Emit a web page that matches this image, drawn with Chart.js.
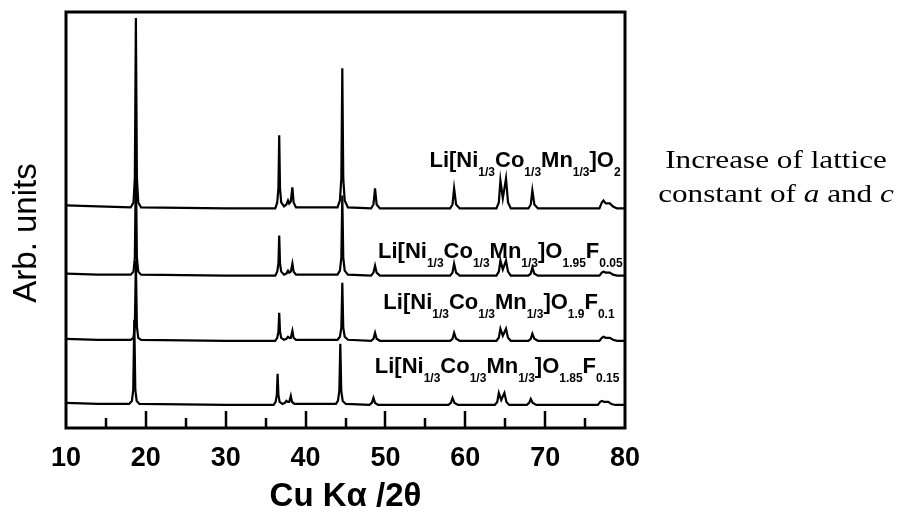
<!DOCTYPE html>
<html>
<head>
<meta charset="utf-8">
<script src="https://cdn.jsdelivr.net/npm/chart.js@4.4.1/dist/chart.umd.min.js"></script>
<style>
  html, body { margin: 0; padding: 0; background: #fff; }
  #wrap { width: 902px; height: 514px; }
</style>
</head>
<body>
<div id="wrap"><canvas id="xrd" width="902" height="514"></canvas></div>
<script>
// XRD patterns, 2theta (deg) and intensity above each trace's own baseline
const angle1 = [10, 14, 18.1, 18.45, 18.62, 18.75, 18.88, 19.05, 19.4, 30, 36.2, 36.45, 36.6, 36.7, 36.8, 36.95, 37.3, 37.6, 37.8, 37.95, 38.15, 38.35, 38.5, 38.8, 44.0, 44.3, 44.48, 44.6, 44.72, 44.9, 45.3, 48.2, 48.5, 48.7, 48.9, 49.3, 58.1, 58.4, 58.6, 58.85, 59.3, 63.9, 64.2, 64.4, 64.7, 65.1, 65.35, 65.7, 67.9, 68.2, 68.4, 68.65, 69.1, 76.8, 77.1, 77.3, 77.6, 78.1, 78.5, 79, 80];
const inten1 = [3, 2, 1, 6, 30, 190, 30, 6, 1, 0, 0, 6, 20, 73, 20, 6, 2, 4, 8, 5, 7, 21, 6, 1, 1, 8, 30, 140, 30, 8, 1, 0, 4, 20, 4, 0, 0, 4, 20, 4, 0, 0, 6, 28, 10, 30, 6, 0, 0, 4, 18, 4, 0, 0, 6, 8, 5, 5, 2, 0, 0];
const inten2 = [2, 1, 1, 4, 18, 110, 18, 4, 1, 0, 0, 4, 12, 40, 12, 4, 1, 2, 5, 3, 4, 12, 4, 1, 1, 5, 18, 80, 18, 5, 1, 0, 3, 10, 3, 0, 0, 3, 12, 3, 0, 0, 4, 15, 6, 15, 4, 0, 0, 2, 8, 2, 0, 0, 3, 4, 3, 3, 1, 0, 0];
const inten3 = [2, 1, 1, 3, 14, 80, 14, 3, 1, 0, 0, 3, 9, 28, 9, 3, 1, 2, 4, 3, 3, 10, 3, 1, 1, 4, 13, 58, 13, 4, 1, 0, 2, 8, 2, 0, 0, 2, 8, 2, 0, 0, 3, 12, 5, 12, 3, 0, 0, 2, 7, 2, 0, 0, 3, 4, 3, 3, 1, 0, 0];
const angle4 = [10, 14, 17.9, 18.25, 18.42, 18.55, 18.68, 18.85, 19.2, 30, 36.0, 36.25, 36.4, 36.5, 36.6, 36.75, 37.1, 37.4, 37.6, 37.75, 37.95, 38.15, 38.3, 38.6, 43.8, 44.05, 44.23, 44.35, 44.47, 44.65, 45.05, 48.0, 48.3, 48.5, 48.7, 49.1, 57.9, 58.2, 58.4, 58.65, 59.1, 63.7, 64.0, 64.2, 64.5, 64.9, 65.15, 65.5, 67.7, 68.0, 68.2, 68.45, 68.9, 76.6, 76.9, 77.1, 77.4, 77.9, 78.3, 78.8, 80];
const inten4 = [2, 1, 1, 4, 15, 85, 15, 4, 1, 0, 0, 3, 10, 31, 10, 3, 1, 2, 4, 3, 3, 9, 3, 1, 1, 4, 14, 61, 14, 4, 1, 0, 2, 7, 2, 0, 0, 2, 7, 2, 0, 0, 3, 12, 5, 12, 3, 0, 0, 2, 6, 2, 0, 0, 3, 4, 3, 3, 1, 0, 0];

// vertical stacking offsets (arb. units), top trace first
const offsets = [219, 152, 87, 23];

// x axis
const xTickLabels = [10, 20, 30, 40, 50, 60, 70, 80];
const majorMarks = [20, 30, 40, 50, 60, 70];
const minorMarks = [15, 25, 35, 45, 55, 65, 75];

// sample names: [text, isSubscript]
const sampleLabels = [
  [["Li[Ni", 0], ["1/3", 1], ["Co", 0], ["1/3", 1], ["Mn", 0], ["1/3", 1], ["]O", 0], ["2", 1]],
  [["Li[Ni", 0], ["1/3", 1], ["Co", 0], ["1/3", 1], ["Mn", 0], ["1/3", 1], ["]O", 0], ["1.95", 1], ["F", 0], ["0.05", 1]],
  [["Li[Ni", 0], ["1/3", 1], ["Co", 0], ["1/3", 1], ["Mn", 0], ["1/3", 1], ["]O", 0], ["1.9", 1], ["F", 0], ["0.1", 1]],
  [["Li[Ni", 0], ["1/3", 1], ["Co", 0], ["1/3", 1], ["Mn", 0], ["1/3", 1], ["]O", 0], ["1.85", 1], ["F", 0], ["0.15", 1]]
];
const labelRightX = [79.45, 79.7, 78.7, 79.3];
const labelLift = [41, 18, 32, 32];

const yTitle = "Arb. units";
const sideNote = [
  [["Increase of lattice", 0]],
  [["constant of ", 0], ["a", 1], [" and ", 0], ["c", 1]]
];

function makePoints(angles, inten, off) {
  return angles.map((a, i) => ({ x: a, y: inten[i] + off }));
}

const traces = [
  makePoints(angle1, inten1, offsets[0]),
  makePoints(angle1, inten2, offsets[1]),
  makePoints(angle1, inten3, offsets[2]),
  makePoints(angle4, inten4, offsets[3])
];

const framePlugin = {
  id: "frame",
  afterDatasetsDraw(chart) {
    const { ctx, chartArea: a, scales: { x, y } } = chart;
    ctx.save();
    ctx.strokeStyle = "#000";
    ctx.fillStyle = "#000";

    // inner tick marks along the bottom
    ctx.lineWidth = 2.5;
    ctx.beginPath();
    majorMarks.forEach(v => {
      const px = Math.round(x.getPixelForValue(v));
      ctx.moveTo(px, a.bottom);
      ctx.lineTo(px, a.bottom - 17);
    });
    minorMarks.forEach(v => {
      const px = Math.round(x.getPixelForValue(v));
      ctx.moveTo(px, a.bottom);
      ctx.lineTo(px, a.bottom - 10);
    });
    ctx.stroke();

    // box
    ctx.lineWidth = 3;
    ctx.strokeRect(a.left, a.top, a.right - a.left, a.bottom - a.top);

    // y title, a little below the middle of the box
    ctx.save();
    ctx.translate(36, 233);
    ctx.rotate(-Math.PI / 2);
    ctx.font = "33px 'Liberation Sans', Arial, sans-serif";
    ctx.textAlign = "center";
    ctx.textBaseline = "alphabetic";
    ctx.fillText(yTitle, 0, 0);
    ctx.restore();

    // sample labels, right aligned
    const mainFont = "bold 22px 'Liberation Sans', Arial, sans-serif";
    const subFont = "bold 12px 'Liberation Sans', Arial, sans-serif";
    ctx.textBaseline = "alphabetic";
    ctx.textAlign = "left";
    sampleLabels.forEach((segs, i) => {
      let total = 0;
      segs.forEach(([t, sub]) => {
        ctx.font = sub ? subFont : mainFont;
        total += ctx.measureText(t).width;
      });
      let px = x.getPixelForValue(labelRightX[i]) - total;
      const py = y.getPixelForValue(offsets[i] + labelLift[i]);
      segs.forEach(([t, sub]) => {
        ctx.font = sub ? subFont : mainFont;
        ctx.fillText(t, px, sub ? py + 9 : py);
        px += ctx.measureText(t).width;
      });
    });

    // note on the right
    const cx = a.right + 151;
    const lineY = [168, 202];
    sideNote.forEach((segs, i) => {
      const fonts = segs.map(([t, it]) => (it ? "italic " : "") + "26px 'Liberation Serif', 'Times New Roman', serif");
      let total = 0;
      segs.forEach(([t], j) => { ctx.font = fonts[j]; total += ctx.measureText(t).width; });
      ctx.save();
      ctx.translate(cx, lineY[i]);
      ctx.scale(1.2, 1);
      let px = -total / 2;
      segs.forEach(([t], j) => {
        ctx.font = fonts[j];
        ctx.fillText(t, px, 0);
        px += ctx.measureText(t).width;
      });
      ctx.restore();
    });
    ctx.restore();
  }
};

new Chart(document.getElementById("xrd"), {
  type: "line",
  data: {
    datasets: traces.map(pts => ({
      data: pts,
      borderColor: "#000",
      borderWidth: 2.2,
      pointRadius: 0,
      tension: 0,
      fill: false
    }))
  },
  options: {
    responsive: false,
    animation: false,
    devicePixelRatio: 1,
    layout: { padding: { left: 66, top: 12, right: 277, bottom: 0 } },
    plugins: { legend: { display: false }, tooltip: { enabled: false } },
    scales: {
      x: {
        type: "linear",
        min: 10,
        max: 80,
        grid: { display: false, drawTicks: false },
        border: { display: false },
        afterBuildTicks: s => { s.ticks = xTickLabels.map(v => ({ value: v })); },
        ticks: {
          color: "#000",
          padding: 14,
          maxRotation: 0,
          font: { family: "'Liberation Sans', Arial, sans-serif", size: 27, weight: "bold" }
        },
        title: {
          display: true,
          text: "Cu Kα /2θ",
          color: "#000",
          padding: { top: -11.2, bottom: -2.8 },
          font: { family: "'Liberation Sans', Arial, sans-serif", size: 33, weight: "bold" }
        }
      },
      y: {
        display: false,
        min: 0,
        max: 415
      }
    }
  },
  plugins: [framePlugin]
});
</script>
</body>
</html>
